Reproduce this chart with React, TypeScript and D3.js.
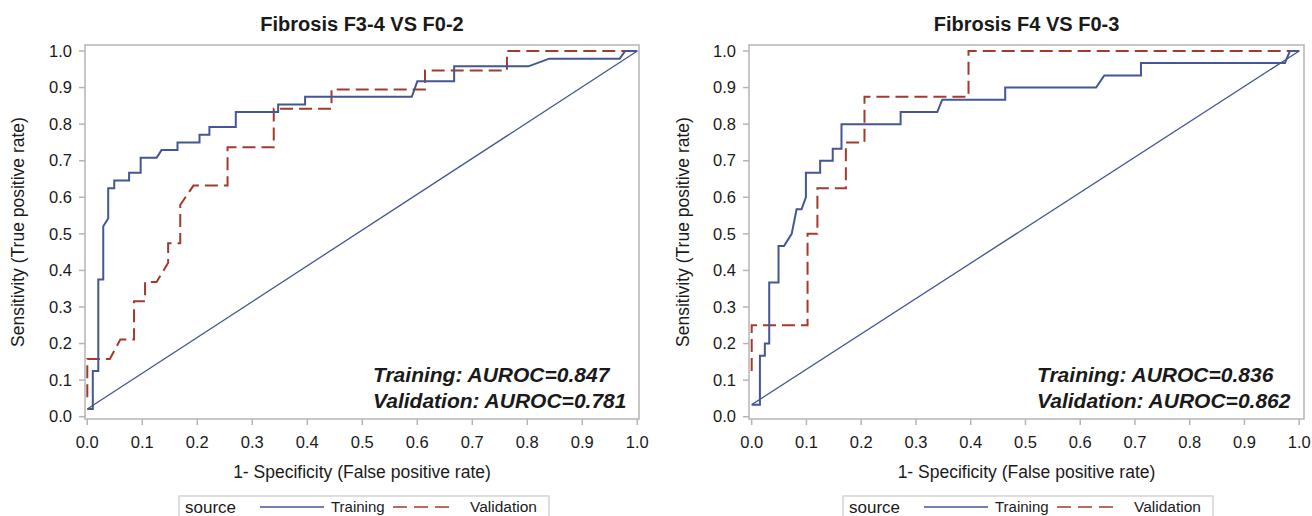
import React from 'react'
import { scaleLinear, line } from 'd3'

// ROC points: fpr = 1 - specificity, tpr = sensitivity
const leftTrainFpr = [0, 0.01, 0.01, 0.02, 0.02, 0.029, 0.029, 0.038, 0.038, 0.049, 0.049, 0.076, 0.076, 0.097, 0.097, 0.126, 0.135, 0.164, 0.164, 0.204, 0.204, 0.222, 0.222, 0.27, 0.27, 0.347, 0.347, 0.396, 0.396, 0.59, 0.6, 0.667, 0.667, 0.802, 0.84, 0.968, 0.978, 1]
const leftTrainTpr = [0.021, 0.021, 0.125, 0.125, 0.375, 0.375, 0.521, 0.542, 0.625, 0.625, 0.646, 0.646, 0.667, 0.667, 0.708, 0.708, 0.729, 0.729, 0.75, 0.75, 0.771, 0.771, 0.792, 0.792, 0.833, 0.833, 0.854, 0.854, 0.875, 0.875, 0.917, 0.917, 0.958, 0.958, 0.979, 0.979, 1, 1]
const leftValidFpr = [0, 0, 0.041, 0.06, 0.085, 0.085, 0.105, 0.105, 0.126, 0.147, 0.147, 0.169, 0.169, 0.193, 0.255, 0.255, 0.339, 0.339, 0.444, 0.444, 0.614, 0.614, 0.763, 0.763, 1]
const leftValidTpr = [0.053, 0.158, 0.158, 0.211, 0.211, 0.316, 0.316, 0.368, 0.368, 0.421, 0.474, 0.474, 0.579, 0.632, 0.632, 0.737, 0.737, 0.842, 0.842, 0.895, 0.895, 0.947, 0.947, 1, 1]

const rightTrainFpr = [0, 0.015, 0.015, 0.024, 0.024, 0.032, 0.032, 0.049, 0.049, 0.059, 0.073, 0.082, 0.091, 0.099, 0.099, 0.125, 0.125, 0.148, 0.148, 0.164, 0.164, 0.272, 0.272, 0.339, 0.348, 0.463, 0.463, 0.629, 0.644, 0.711, 0.711, 0.974, 0.983, 1]
const rightTrainTpr = [0.033, 0.033, 0.167, 0.167, 0.2, 0.2, 0.367, 0.367, 0.467, 0.467, 0.5, 0.567, 0.567, 0.6, 0.667, 0.667, 0.7, 0.7, 0.733, 0.733, 0.8, 0.8, 0.833, 0.833, 0.867, 0.867, 0.9, 0.9, 0.933, 0.933, 0.967, 0.967, 1, 1]
const rightValidFpr = [0, 0, 0.102, 0.102, 0.12, 0.12, 0.172, 0.172, 0.206, 0.206, 0.396, 0.396, 1]
const rightValidTpr = [0.125, 0.25, 0.25, 0.5, 0.5, 0.625, 0.625, 0.75, 0.75, 0.875, 0.875, 1, 1]

const tickValues = [0, 0.1, 0.2, 0.3, 0.4, 0.5, 0.6, 0.7, 0.8, 0.9, 1.0]
const titles = ['Fibrosis F3-4 VS F0-2', 'Fibrosis F4 VS F0-3']
const trainingAuc = ['0.847', '0.836']
const validationAuc = ['0.781', '0.862']
const seriesNames = ['Training', 'Validation']

const BLUE = '#445694'
const RED = '#A23A2E'
const GRID = '#b5b5b5'
const TXT = '#1a1a1a'
const FONT = '"Liberation Sans", Arial, sans-serif'

const zip = (xs: number[], ys: number[]) => xs.map((x, i) => [x, ys[i]] as [number, number])

type PanelProps = {
  x0: number, x1: number, frameL: number, frameR: number,
  title: string, trainF: number[], trainT: number[], validF: number[], validT: number[],
  aucT: string, aucV: string, labelX: number, annotX: number, legendX: number
}

const Panel = (p: PanelProps) => {
  const xScale = scaleLinear().domain([0, 1]).range([p.x0, p.x1])
  const yScale = scaleLinear().domain([0, 1]).range([416.7, 51])
  const frameT = 45
  const frameB = 419

  const ln = line<[number, number]>()
    .x(d => xScale(d[0]))
    .y(d => yScale(d[1]))

  const train = zip(p.trainF, p.trainT)
  const valid = zip(p.validF, p.validT)
  const diag: [number, number][] = [[0, p.trainT[0]], [1, 1]]
  const cx = (p.frameL + p.frameR) / 2

  return (
    <g>
      <text x={cx} y={30.5} textAnchor="middle" fontSize={20} fontWeight="bold" fill={TXT}>{p.title}</text>
      {/* frame */}
      <rect x={p.frameL} y={frameT} width={p.frameR - p.frameL} height={frameB - frameT} fill="none" stroke={GRID} strokeWidth={1.5} />
      {/* y axis */}
      {tickValues.map(t => (
        <g key={'y' + t}>
          <line x1={p.frameL - 6} x2={p.frameL} y1={yScale(t)} y2={yScale(t)} stroke={GRID} strokeWidth={1.5} />
          <text x={p.frameL - 13} y={yScale(t)} dy="0.35em" textAnchor="end" fontSize={16.5} fill={TXT}>{t.toFixed(1)}</text>
        </g>
      ))}
      {/* x axis */}
      {tickValues.map(t => (
        <g key={'x' + t}>
          <line x1={xScale(t)} x2={xScale(t)} y1={frameB} y2={frameB + 6} stroke={GRID} strokeWidth={1.5} />
          <text x={xScale(t)} y={442} dy="0.35em" textAnchor="middle" fontSize={16.5} fill={TXT}>{t.toFixed(1)}</text>
        </g>
      ))}
      <text x={cx} y={472} dy="0.35em" textAnchor="middle" fontSize={17.5} fill={TXT}>1- Specificity (False positive rate)</text>
      <text transform={`translate(${p.labelX},${(frameT + frameB) / 2}) rotate(-90)`} dy="0.35em" textAnchor="middle" fontSize={17.5} fill={TXT}>Sensitivity (True positive rate)</text>

      <path d={ln(diag) ?? ''} fill="none" stroke={BLUE} strokeWidth={1.3} />
      <path d={ln(valid) ?? ''} fill="none" stroke={RED} strokeWidth={2} strokeDasharray="13,6" />
      <path d={ln(train) ?? ''} fill="none" stroke={BLUE} strokeWidth={2} />

      <text x={p.annotX} y={382} fontSize={21} fontWeight="bold" fontStyle="italic" fill={TXT}>Training: AUROC={p.aucT}</text>
      <text x={p.annotX} y={408} fontSize={21} fontWeight="bold" fontStyle="italic" fill={TXT}>Validation: AUROC={p.aucV}</text>

      {/* legend */}
      <g transform={`translate(${p.legendX},496)`}>
        <rect x={0} y={0} width={370} height={30} fill="white" stroke="#c8c8c8" strokeWidth={1.2} />
        <text x={6} y={11} dy="0.35em" fontSize={17} fill={TXT}>source</text>
        <line x1={81} x2={145} y1={11} y2={11} stroke={BLUE} strokeWidth={1.5} />
        <text x={152} y={11} dy="0.35em" fontSize={15} fill={TXT}>{seriesNames[0]}</text>
        <line x1={214} x2={270} y1={11} y2={11} stroke={RED} strokeWidth={1.5} strokeDasharray="14,7" />
        <text x={291} y={11} dy="0.35em" fontSize={15.5} fill={TXT}>{seriesNames[1]}</text>
      </g>
    </g>
  )
}

const App = () => {
  return (
    <svg width={1312} height={516} style={{ position: 'absolute', left: 0, top: 0, background: 'white', fontFamily: FONT }}>
      <Panel x0={87.3} x1={637.3} frameL={85} frameR={639} title={titles[0]}
        trainF={leftTrainFpr} trainT={leftTrainTpr} validF={leftValidFpr} validT={leftValidTpr}
        aucT={trainingAuc[0]} aucV={validationAuc[0]} labelX={18} annotX={373} legendX={179} />
      <Panel x0={751.7} x1={1299.2} frameL={749} frameR={1304} title={titles[1]}
        trainF={rightTrainFpr} trainT={rightTrainTpr} validF={rightValidFpr} validT={rightValidTpr}
        aucT={trainingAuc[1]} aucV={validationAuc[1]} labelX={683} annotX={1037} legendX={843} />
    </svg>
  )
}

export default App
